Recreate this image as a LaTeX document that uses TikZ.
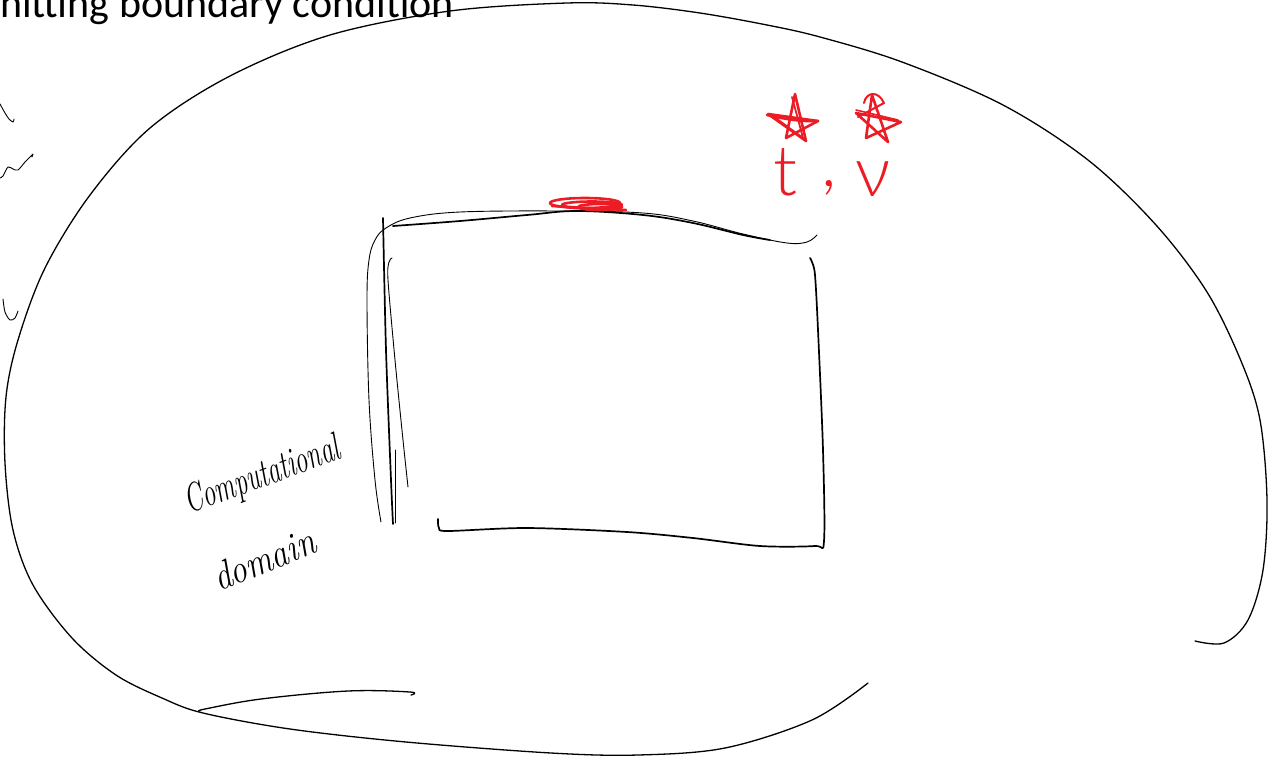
\documentclass[tikz,border=0pt]{standalone}
\usepackage{fontspec}
\usepackage{graphicx}
\newfontfamily\titlefont{Carlito}
\newfontfamily\redfont{Lato}[UprightFont=*-Light]
\definecolor{inkred}{RGB}{237,28,36}
\begin{document}
\begin{tikzpicture}[x=1pt,y=-1pt,
  outline/.style={line width=1.3pt, line cap=round, line join=round},
  pen/.style={line width=1.7pt, line cap=round, line join=round},
  thinpen/.style={line width=0.9pt, line cap=round, line join=round},
  redpen/.style={draw=inkred, line width=2.6pt, line cap=round, line join=round},
  hand/.style={font=\fontsize{40}{40}\selectfont\itshape, inner sep=0pt, anchor=base west},
  redtext/.style={font=\redfont\fontsize{70}{70}\selectfont, text=inkred, inner sep=0pt, anchor=base}]
\useasboundingbox (0,0) rectangle (1275,756);
\clip (0,0) rectangle (1275,756);

% title (cut off at the top)
\node[anchor=base west, inner sep=0pt, font=\titlefont\fontsize{42}{42}\selectfont] (title) at (0,17) {nitting boundary condition};

% outer boundary
\draw[outline] plot[smooth, tension=0.55] coordinates {
 (868,683) (812,720) (725,748) (638,755) (551,753) (406,742) (290,729)
 (203,713) (162,698) (116,675) (72,638) (33,585) (13,530) (5,463) (6,397)
 (18,340) (45,268) (90,195) (150,128) (230,76) (330,35) (450,11)
 (567,3) (633,5) (700,13) (767,25)
 (820,37) (902,62) (1003,105) (1088,160) (1156,225) (1207,292) (1241,361)
 (1260,420) (1267,500) (1263,570) (1248,620) (1224,643) (1195,641)};

% bottom-left stroke
\draw[outline] plot[smooth, tension=0.6] coordinates {
 (200,711) (205,709) (261,699) (348,691) (410,692) (411,695)};

% left-edge marks
\draw[thinpen] plot[smooth] coordinates {(0,104) (5,113) (9,119) (13,122) (14,119)};
\draw[thinpen] plot[smooth] coordinates {(0,178) (3,176) (8,167) (13,169) (18,170) (25,162) (32,155) (33,154) (32,157)};
\draw[thinpen] plot[smooth] coordinates {(3,299) (5,312) (10,320) (15,318) (18,311)};

% computational domain box
\draw[thinpen] plot[smooth, tension=0.6] coordinates {
 (381,522) (375,480) (369,400) (367,300) (369,260) (375,240) (386,228)
 (410,218) (460,212) (560,211) (643,213) (693,221) (743,234) (787,243)
 (807,242) (817,235)};
\draw[pen] plot[smooth, tension=0.6] coordinates {
 (393,226) (460,221) (527,215) (577,211) (643,215) (693,223) (743,235) (770,240)};
\draw[pen] plot[smooth, tension=0.5] coordinates {(383,218) (386,350) (391,480) (393,524)};
\draw[thinpen] plot[smooth, tension=0.5] coordinates {(392,258) (389,262) (388,280) (395,360) (403,440) (408,487)};
\draw[thinpen] (395,450) -- (395,523);
\draw[pen] plot[smooth, tension=0.5] coordinates {
 (438,519) (439,528) (448,531) (527,528) (627,532) (693,538) (760,546)
 (815,546) (824,541) (823,450) (818,330) (815,275) (812,262) (810,258)};

% red scribble on the top edge
\draw[redpen] (585,203) ellipse [x radius=35, y radius=5];
\draw[redpen] (592,205) ellipse [x radius=30, y radius=3.5];
\draw[redpen] (600,207) ellipse [x radius=22, y radius=3];
\draw[redpen] (552,206) -- (626,210);

% red stars
\draw[redpen] (767,115) .. controls (780,118) and (800,122) .. (818,121);
\draw[redpen] (795,94) -- (806,141) -- (768,114) -- (818,121) -- (786,138) -- (795,94);
\draw[redpen, line width=1.8pt] (792,97) -- (803,138) -- (773,116);
\draw[redpen] (872,95) -- (888,142) -- (856,113) -- (901,122) -- (866,138) -- (872,95);
\draw[redpen, line width=2pt] (864,103) .. controls (866,92) and (878,90) .. (884,103) -- (858,117);
\draw[redpen, line width=1.6pt] (856,110) -- (898,120);

% red labels
\node[redtext] (tlabel) at (785,195) {t};
\node[redtext] (comma) at (829,186) {,};
\node[redtext] (nulabel) at (873,196) {ν};

% handwritten label
\node[hand, rotate=20] (comp) at (189,514) {\scalebox{0.65}[1]{Computational}};
\node[hand, rotate=22] (dom) at (219,592) {\scalebox{0.85}[1]{domain}};
\end{tikzpicture}
\end{document}
